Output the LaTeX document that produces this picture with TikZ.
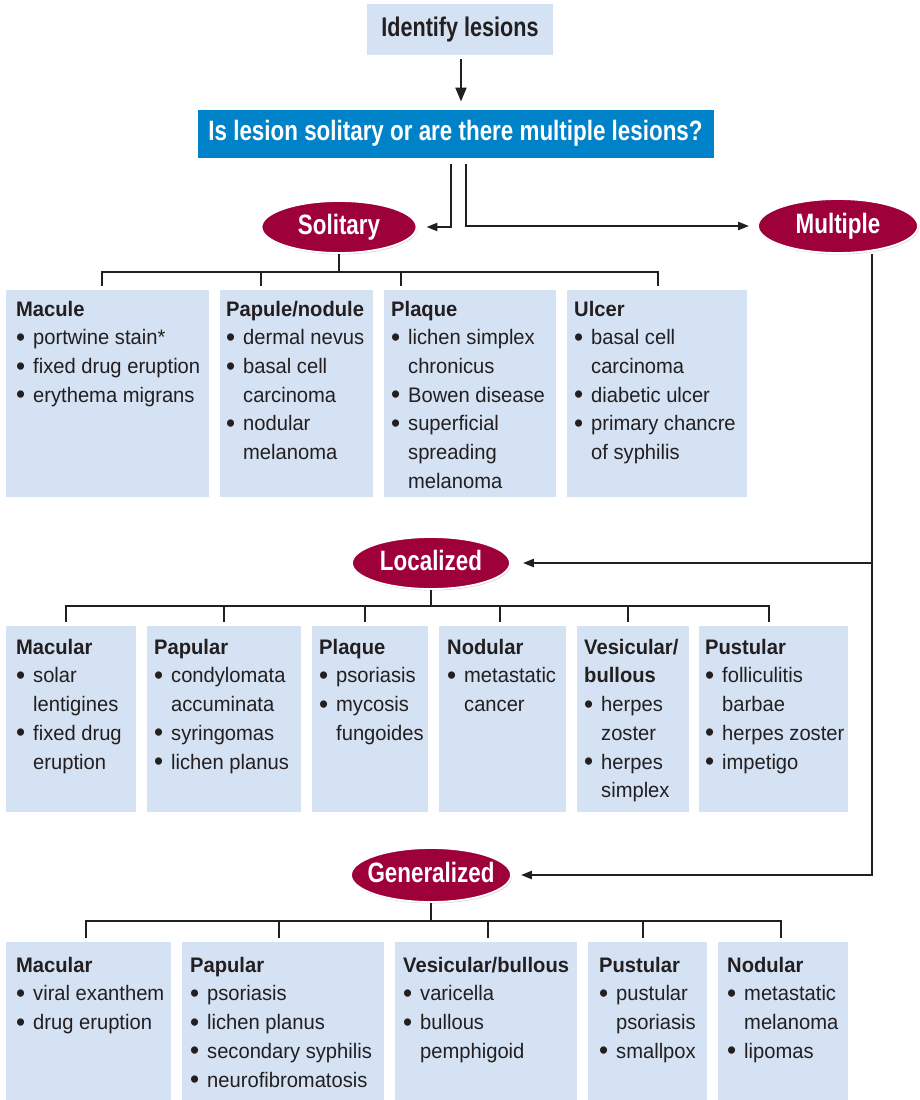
\documentclass[tikz,border=0pt]{standalone}
\usepackage{fontspec}
\setmainfont{Liberation Sans}
\newfontfamily\itemfam{Liberation Sans}[FakeStretch=0.96]
\newfontfamily\bigfam{Liberation Sans}[FakeStretch=0.8]
\usetikzlibrary{shapes.geometric,shadows,arrows.meta,calc}
\definecolor{lb}{HTML}{D4E2F3}
\definecolor{qblue}{HTML}{0082C8}
\definecolor{crim}{HTML}{9E0039}
\definecolor{ink}{HTML}{231F20}
\newcommand{\bul}{\makebox[17pt][l]{\raisebox{-1.5pt}{\fontsize{27}{28.7}\selectfont •}}}
\newcommand{\ind}{\hspace*{17pt}}
\newcommand{\ovtxt}[1]{\makebox[0pt][c]{#1}}
\begin{document}
\begin{tikzpicture}[x=1pt,y=-1pt,
 lbox/.style={fill=lb, draw=none, anchor=north west, inner sep=0pt},
 itxt/.style={anchor=north west, inner sep=0pt, align=left, text=ink, font=\itemfam\fontsize{21}{28.7}\selectfont},
 oval/.style={ellipse, fill=crim, draw=white, line width=1.8pt, inner sep=0pt, text=white,
   text height=14pt, text depth=0pt,
   font=\bigfam\bfseries\fontsize{28}{30}\selectfont,
   drop shadow={opacity=0.3, shadow xshift=1pt, shadow yshift=-1.5pt}},
 conn/.style={draw=ink, line width=2.2pt},
 arr/.style={-{Triangle[length=11pt,width=8pt]}},
]
\useasboundingbox (0,0) rectangle (919,1100);

% top
\node[fill=lb, minimum width=186pt, minimum height=51pt, inner sep=0pt, text=ink,
  font=\bigfam\bfseries\fontsize{27}{30}\selectfont] (id) at (460,29.5) {Identify lesions};
\node[fill=qblue, draw=white, line width=3pt, minimum width=519pt, minimum height=51pt, inner sep=0pt,
  text=white, font=\bigfam\bfseries\fontsize{28}{30}\selectfont,
  drop shadow={opacity=0.3, shadow xshift=1pt, shadow yshift=-1.5pt}] (q) at (455.5,133.5)
  {Is lesion solitary or are there multiple lesions?};
\draw[conn,-{Triangle[length=14pt,width=11pt]}, shorten <=4pt, shorten >=5pt]
  ([xshift=1pt]id.south) -- ([xshift=1pt]id.south |- q.north);

\node[oval, minimum width=155pt, minimum height=52pt] (sol) at (339,227) {\ovtxt{Solitary}};
\node[oval, minimum width=160pt, minimum height=54pt] (mul) at (838,226) {\ovtxt{Multiple}};
\node[oval, minimum width=158pt, minimum height=52pt] (loc) at (431,563) {\ovtxt{Localized}};
\node[oval, minimum width=160pt, minimum height=54pt] (gen) at (431,875) {\ovtxt{Generalized}};

\draw[conn,arr,shorten <=3pt,shorten >=9pt] ([xshift=-4.5pt]q.south) |- (sol.east);
\draw[conn,arr,shorten <=3pt,shorten >=8pt] ([xshift=10.5pt]q.south) |- (mul.west);

\coordinate (mj) at ([xshift=34pt]mul.south |- loc.east);
\draw[conn,arr,shorten >=9pt] ([xshift=34pt]mul.south) |- (gen.east);
\draw[conn,arr,shorten >=12pt] (mj) -- (loc.east);

% solitary boxes
\node[lbox, minimum width=203pt, minimum height=207pt] (s1) at (6,290) {};
\node[lbox, minimum width=153pt, minimum height=207pt] (s2) at (220,290) {};
\node[lbox, minimum width=172pt, minimum height=207pt] (s3) at (384,290) {};
\node[lbox, minimum width=180pt, minimum height=207pt] (s4) at (567,290) {};
\node[itxt] (s1t) at (16,295.9) {\strut\textbf{Macule}\\\bul portwine stain*\\\bul fixed drug eruption\\\bul erythema migrans};
\node[itxt] (s2t) at (226,295.9) {\strut\textbf{Papule/nodule}\\\bul dermal nevus\\\bul basal cell\\\ind carcinoma\\\bul nodular\\\ind melanoma};
\node[itxt] (s3t) at (391,295.9) {\strut\textbf{Plaque}\\\bul lichen simplex\\\ind chronicus\\\bul Bowen disease\\\bul superficial\\\ind spreading\\\ind melanoma};
\node[itxt] (s4t) at (574,295.9) {\strut\textbf{Ulcer}\\\bul basal cell\\\ind carcinoma\\\bul diabetic ulcer\\\bul primary chancre\\\ind of syphilis};

\coordinate (sb) at (sol.south |- 0,272);
\draw[conn] (sol.south) -- (sb);
\draw[conn] (102,286) -- (102,272) -- (658,272) -- (658,286);
\draw[conn] (261,272) -- (261,286);
\draw[conn] (401,272) -- (401,286);

% localized boxes
\node[lbox, minimum width=130pt, minimum height=186pt] (l1) at (6,626) {};
\node[lbox, minimum width=154pt, minimum height=186pt] (l2) at (147,626) {};
\node[lbox, minimum width=116pt, minimum height=186pt] (l3) at (312,626) {};
\node[lbox, minimum width=127pt, minimum height=186pt] (l4) at (439,626) {};
\node[lbox, minimum width=112pt, minimum height=186pt] (l5) at (577,626) {};
\node[lbox, minimum width=149pt, minimum height=186pt] (l6) at (699,626) {};
\node[itxt] (l1t) at (16,633.9) {\strut\textbf{Macular}\\\bul solar\\\ind lentigines\\\bul fixed drug\\\ind eruption};
\node[itxt] (l2t) at (154,633.9) {\strut\textbf{Papular}\\\bul condylomata\\\ind accuminata\\\bul syringomas\\\bul lichen planus};
\node[itxt] (l3t) at (319,633.9) {\strut\textbf{Plaque}\\\bul psoriasis\\\bul mycosis\\\ind fungoides};
\node[itxt] (l4t) at (447,633.9) {\strut\textbf{Nodular}\\\bul metastatic\\\ind cancer};
\node[itxt] (l5t) at (584,633.9) {\strut\textbf{Vesicular/}\\\textbf{bullous}\\\bul herpes\\\ind zoster\\\bul herpes\\\ind simplex};
\node[itxt] (l6t) at (705,633.9) {\strut\textbf{Pustular}\\\bul folliculitis\\\ind barbae\\\bul herpes zoster\\\bul impetigo};

\coordinate (lb) at (loc.south |- 0,606);
\draw[conn] (loc.south) -- (lb);
\draw[conn] (66,622) -- (66,606) -- (769,606) -- (769,622);
\draw[conn] (224,606) -- (224,622);
\draw[conn] (365,606) -- (365,622);
\draw[conn] (500,606) -- (500,622);
\draw[conn] (628,606) -- (628,622);

% generalized boxes
\node[lbox, minimum width=165pt, minimum height=158pt] (g1) at (6,942) {};
\node[lbox, minimum width=202pt, minimum height=158pt] (g2) at (182,942) {};
\node[lbox, minimum width=182pt, minimum height=158pt] (g3) at (395,942) {};
\node[lbox, minimum width=119pt, minimum height=158pt] (g4) at (588,942) {};
\node[lbox, minimum width=130pt, minimum height=158pt] (g5) at (718,942) {};
\node[itxt] (g1t) at (16,951.9) {\strut\textbf{Macular}\\\bul viral exanthem\\\bul drug eruption};
\node[itxt] (g2t) at (190,951.9) {\strut\textbf{Papular}\\\bul psoriasis\\\bul lichen planus\\\bul secondary syphilis\\\bul neurofibromatosis};
\node[itxt] (g3t) at (403,951.9) {\strut\textbf{Vesicular/bullous}\\\bul varicella\\\bul bullous\\\ind pemphigoid};
\node[itxt] (g4t) at (599,951.9) {\strut\textbf{Pustular}\\\bul pustular\\\ind psoriasis\\\bul smallpox};
\node[itxt] (g5t) at (727,951.9) {\strut\textbf{Nodular}\\\bul metastatic\\\ind melanoma\\\bul lipomas};

\coordinate (gb) at (gen.south |- 0,921);
\draw[conn] (gen.south) -- (gb);
\draw[conn] (86,938) -- (86,921) -- (781,921) -- (781,938);
\draw[conn] (279,921) -- (279,938);
\draw[conn] (488,921) -- (488,938);
\draw[conn] (643,921) -- (643,938);
\end{tikzpicture}
\end{document}
